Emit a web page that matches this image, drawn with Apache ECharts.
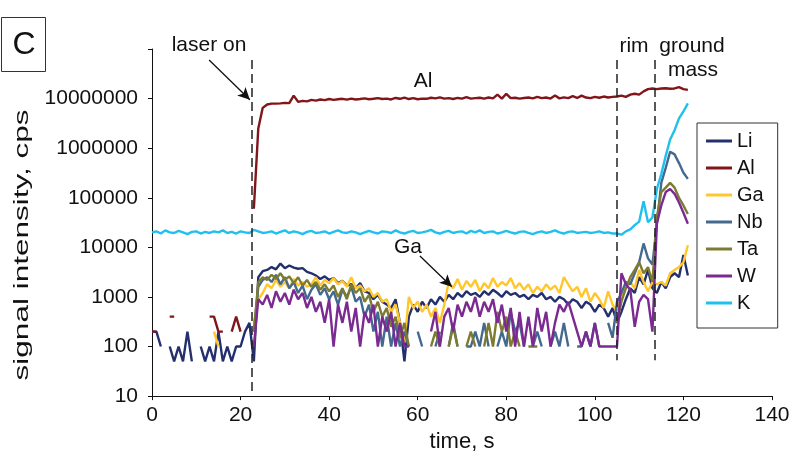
<!DOCTYPE html>
<html>
<head>
  <meta charset="utf-8">
  <title>signal intensity</title>
  <script src="https://cdn.jsdelivr.net/npm/echarts@6/dist/echarts.min.js"></script>
  <style>
    html, body { margin: 0; padding: 0; background: #fff; }
    #chart { width: 797px; height: 458px; }
  </style>
</head>
<body>
  <div id="chart"></div>
  <script>
    // time axis (s), one reading per second
    const times = [
      0, 1, 2, 3, 4, 5, 6, 7, 8, 9,
      10, 11, 12, 13, 14, 15, 16, 17, 18, 19,
      20, 21, 22, 23, 24, 25, 26, 27, 28, 29,
      30, 31, 32, 33, 34, 35, 36, 37, 38, 39,
      40, 41, 42, 43, 44, 45, 46, 47, 48, 49,
      50, 51, 52, 53, 54, 55, 56, 57, 58, 59,
      60, 61, 62, 63, 64, 65, 66, 67, 68, 69,
      70, 71, 72, 73, 74, 75, 76, 77, 78, 79,
      80, 81, 82, 83, 84, 85, 86, 87, 88, 89,
      90, 91, 92, 93, 94, 95, 96, 97, 98, 99,
      100, 101, 102, 103, 104, 105, 106, 107, 108, 109,
      110, 111, 112, 113, 114, 115, 116, 117, 118, 119,
      120, 121
    ];

    const li = [
      200, 200, 100, null, 100, 50, 100, 50, 200, 50,
      null, 100, 50, 100, 50, 200, 50, 100, 50, 100,
      100, 200, 300, 50, 2500, 3300, 3500, 4000, 3600, 4700,
      3800, 4300, 3900, 3700, 3800, 3200, 3000, 2700, 2300, 2600,
      2200, 2400, 1900, 2100, 1700, 1800, 1500, 1900, 1300, 1200,
      900, 1100, 800, 700, 600, 900, 300, 50, 400, 700,
      500, 800, 600, 900, 700, 1000, 800, 1100, 900, 1200,
      1000, 1300, 1100, 1200, 1000, 1300, 1100, 1400, 1200, 1000,
      1300, 1100, 1200, 1000, 1100, 900, 1100, 1000, 1200, 900,
      1000, 800, 1000, 900, 700, 900, 800, 600, 800, 700,
      500, 700, 600, 400, 600, 300, 500, 900, 1500, 1200,
      2500, 1800, 3500, 1500, 1200, 2000, 1500, 2500, 3000, 2500,
      7000, 2700
    ];

    const al = [
      200, 200, null, null, 400, 400, null, null, null, null,
      null, null, null, 400, 400, 200, 200, null, 200, 400,
      200, null, null, 6e4, 2.5e6, 6.5e6, 7.6e6, 7.9e6, 7.9e6, 8.0e6,
      8.2e6, 8.1e6, 1.15e7, 8.6e6, 9.0e6, 8.8e6, 9.4e6, 9.1e6, 9.6e6, 9.3e6,
      9.8e6, 9.4e6, 9.7e6, 9.9e6, 9.5e6, 1.0e7, 9.6e6, 9.8e6, 1.01e7, 9.7e6,
      9.9e6, 1.02e7, 9.8e6, 1.0e7, 9.6e6, 1.03e7, 9.9e6, 1.05e7, 9.8e6, 1.02e7,
      9.7e6, 1.0e7, 9.9e6, 1.04e7, 1.01e7, 1.06e7, 1.0e7, 1.02e7, 9.8e6, 1.03e7,
      1.0e7, 1.07e7, 1.0e7, 1.02e7, 1.04e7, 1.0e7, 1.05e7, 1.01e7, 1.2e7, 1.0e7,
      1.25e7, 1.02e7, 1.04e7, 1.0e7, 1.03e7, 1.05e7, 1.01e7, 1.08e7, 1.02e7, 1.05e7,
      1.0e7, 1.15e7, 1.01e7, 1.06e7, 1.02e7, 1.12e7, 1.03e7, 1.15e7, 1.05e7, 1.02e7,
      1.08e7, 1.04e7, 1.1e7, 1.05e7, 1.08e7, 1.1e7, 1.15e7, 1.08e7, 1.2e7, 1.25e7,
      1.2e7, 1.4e7, 1.55e7, 1.6e7, 1.55e7, 1.6e7, 1.62e7, 1.58e7, 1.6e7, 1.7e7,
      1.55e7, 1.5e7
    ];

    const ga = [
      null, null, null, null, null, null, null, null, null, null,
      null, null, null, null, 200, 100, null, null, null, null,
      null, null, null, 300, 900, 1200, 1800, 1500, 2200, 1600,
      2000, 1500, 2300, 1700, 2000, 1600, 1800, 2500, 1700, 2200,
      1900, 2400, 1800, 2100, 1600, 2500, 1500, 1700, 1300, 1500,
      1000, 1200, 800, 900, 500, 700, 300, 120, 1000, 600,
      800, 500, 700, 400, 600, 300, 700, 2000, 1500, 2300,
      1400, 2100, 1600, 2200, 1300, 1900, 1500, 2400, 1600, 2000,
      1700, 2400, 1500, 1900, 1400, 1800, 1200, 1600, 1300, 1800,
      1400, 1700, 1200, 2500, 1800, 1300, 1600, 1000, 1500, 800,
      1200, 900, 600, 1300, 700, 500, 1000, 1500, 2000, 1500,
      3500, 2000, 1300, 2000, 1800, 2000, 1700, 3000, 3500, 4000,
      5000, 11000
    ];

    const nb = [
      null, null, null, null, null, null, null, null, null, null,
      null, null, null, null, null, null, null, null, null, null,
      null, null, null, 200, 1600, 2200, 2500, 2000, 2800, 1800,
      2500, 1500, 2000, 1200, 1700, 900, 1400, 1800, 1100, 1500,
      900, 1300, 700, 1400, 1000, 1600, 800, 1000, 400, 700,
      200, 500, 100, 400, 100, 300, 100, 200, 100, null,
      200, 100, null, null, 100, 200, null, 100, 300, 100,
      null, 100, 100, 200, 100, 300, 100, null, 100, 200,
      100, 500, 200, 300, 100, null, 100, 200, 100, null,
      100, 200, 100, 300, 100, null, 100, 100, 200, 100,
      300, 100, null, 300, 150, 800, 1200, 2000, 1800, 3000,
      5000, 12000, 6000, 4500, 30000, 200000, 400000, 850000, 750000, 500000,
      320000, 240000
    ];

    const ta = [
      null, null, null, null, null, null, null, null, null, null,
      null, null, null, null, null, null, null, null, null, null,
      null, null, null, 200, 2000, 2500, 2200, 2800, 2300, 3000,
      2200, 2600, 1900, 2500, 1700, 2200, 1600, 2000, 1400, 1800,
      1300, 1700, 1000, 1500, 900, 1800, 1200, 1500, 800, 1100,
      500, 800, 400, 600, 250, 400, 150, 300, 100, null,
      null, null, null, 100, 200, 100, null, 100, 250, 100,
      null, 100, 200, 100, null, 100, 300, 100, 500, 200,
      400, 100, 200, 100, null, 100, 100, 100, null, null,
      null, null, null, null, null, null, null, null, null, null,
      null, null, null, null, null, 300, 800, 1500, 2500, 3500,
      5000, 3000, 4000, 2000, 40000, 130000, 160000, 200000, 160000, 100000,
      70000, 47000
    ];

    const w = [
      null, null, null, null, null, null, null, null, null, null,
      null, null, null, null, null, null, null, null, null, null,
      null, null, null, 100, 900, 700, 1100, 600, 1300, 800,
      1200, 700, 1400, 900, 1200, 600, 1000, 500, 800, 300,
      900, 100, 700, 300, 800, 200, 600, 100, 500, 300,
      700, 100, 400, 200, 500, 100, 300, 100, 100, null,
      null, 100, null, 200, 500, 100, 400, 600, 200, 700,
      400, 800, 500, 1000, 400, 800, 500, 900, 300, 700,
      200, 600, 100, 500, 100, 400, 100, 600, 200, 500,
      100, 300, 700, 500, 800, 400, 200, 100, 200, 100,
      300, 100, 100, 100, 100, 100, 3000, 1800, 1400, 250,
      800, 1100, 900, 200, 30000, 70000, 130000, 150000, 120000, 80000,
      50000, 30000
    ];

    const k = [
      20000, 21000, 19000, 22000, 20000, 19500, 21500, 20000, 18500, 20500,
      21000, 19000, 20500, 19500, 21000, 20000, 22000, 19500, 20500, 19000,
      21000, 20000, 19500, 22500, 21000, 19500, 20000, 21000, 19000, 20500,
      22000, 19500, 21000, 20000, 18500, 20500, 21500, 19500, 20000, 21000,
      19000, 20500, 22000, 20000, 19500, 21000, 20000, 18500, 20000, 21500,
      20000, 19000, 21000, 20500, 19500, 22000, 20000, 19000, 20500, 21500,
      19500, 20000, 21000, 22500, 20000, 19000, 20500, 21500, 19500, 20500,
      21000, 19000, 21500, 20000, 22000, 19500, 20500, 21000, 19000, 20000,
      21500, 20000, 19000, 20500, 21000, 19500, 18500, 20000, 21000, 19500,
      20500, 22000, 20000, 19000, 20500, 21000, 19500, 20000, 20500, 19500,
      20000, 21000, 19500, 20000, 19000, 19000, 18000, 21000, 23000, 28000,
      33000, 85000, 32000, 40000, 150000, 300000, 700000, 1500000, 2300000, 4000000,
      5500000, 8000000
    ];

    const names = ['Li', 'Al', 'Ga', 'Nb', 'Ta', 'W', 'K'];
    const colors = ['#24306e', '#80151a', '#ffc72c', '#44698f', '#7d7b2f', '#7b2a91', '#1fc0ee'];
    const values = [li, al, ga, nb, ta, w, k];

    // annotation positions (time s, cps)
    const laserOn = 22.6, rimStart = 105, groundStart = 113.5;

    const font = "'Liberation Sans', Arial, sans-serif";
    const dash = { color: '#222', type: [9, 5], width: 1.5 };

    let series = values.map(function (vals, i) {
      return {
        name: names[i],
        type: 'line',
        showSymbol: false,
        connectNulls: false,
        color: colors[i],
        lineStyle: { width: 2.4, color: colors[i] },
        data: times.map(function (t, j) { return [t, vals[j]]; })
      };
    });

    series[6].markLine = {
      silent: true,
      animation: false,
      label: { show: false },
      symbol: ['none', 'none'],
      data: [
        [{ coord: [laserOn, 6e7], lineStyle: dash }, { coord: [laserOn, 10.5] }],
        [{ coord: [rimStart, 6e7], lineStyle: dash }, { coord: [rimStart, 53] }],
        [{ coord: [groundStart, 6e7], lineStyle: dash }, { coord: [groundStart, 53] }],
        [{ coord: [12.9, 6e7], lineStyle: { color: '#111', type: 'solid', width: 1.3 } },
         { coord: [22.1, 9.5e6], symbol: 'arrow', symbolSize: [9, 12] }],
        [{ coord: [60.5, 6700], lineStyle: { color: '#111', type: 'solid', width: 1.3 } },
         { coord: [67.7, 1600], symbol: 'arrow', symbolSize: [9, 12] }]
      ]
    };

    let myChart = echarts.init(document.getElementById('chart'));
    let option = {
      animation: false,
      backgroundColor: '#fff',
      textStyle: { fontFamily: font },
      grid: { left: 152, right: 25, top: 49, bottom: 60 },
      legend: {
        data: names,
        orient: 'vertical',
        left: 697,
        top: 123,
        icon: 'rect',
        itemWidth: 26,
        itemHeight: 3,
        itemGap: 7,
        padding: [8, 14, 15, 9],
        borderColor: '#333',
        borderWidth: 1,
        backgroundColor: '#fff',
        textStyle: { fontSize: 20, color: '#111', fontFamily: font, lineHeight: 20 }
      },
      xAxis: {
        type: 'value',
        min: 0,
        max: 140,
        interval: 20,
        name: 'time, s',
        nameLocation: 'middle',
        nameGap: 30,
        nameTextStyle: { fontSize: 22, color: '#111', fontFamily: font },
        axisLine: { lineStyle: { color: '#111', width: 1 } },
        axisTick: { inside: false, length: 4, lineStyle: { color: '#111' } },
        axisLabel: { fontSize: 21, color: '#111', margin: 9, fontFamily: font },
        splitLine: { show: false }
      },
      yAxis: {
        type: 'log',
        logBase: 10,
        min: 10,
        max: 1e8,
        splitNumber: 7,
        axisLine: { show: true, lineStyle: { color: '#111', width: 1 } },
        axisTick: { show: true, inside: false, length: 4, lineStyle: { color: '#111' } },
        axisLabel: {
          fontSize: 21, color: '#111', margin: 14, fontFamily: font,
          formatter: function (v) { return v > 5e7 ? '' : String(Math.round(v)); }
        },
        splitLine: { show: false }
      },
      graphic: [
        { type: 'rect', shape: { x: 1.5, y: 17.5, width: 44, height: 54 },
          style: { fill: '#fff', stroke: '#333', lineWidth: 1 } },
        { type: 'text', x: 24, y: 45,
          style: { text: 'C', font: '32px ' + font, fill: '#111', align: 'center', verticalAlign: 'middle' } },
        // y axis title, stretched along its length like the original figure
        { type: 'text', x: 22, y: 245, rotation: Math.PI / 2, scaleX: 1.5, scaleY: 1,
          style: { text: 'signal intensity, cps', font: '21px ' + font, fill: '#111', align: 'center', verticalAlign: 'middle' } },
        { type: 'text', x: 209, y: 45,
          style: { text: 'laser on', font: '21px ' + font, fill: '#111', align: 'center', verticalAlign: 'middle' } },
        { type: 'text', x: 634, y: 46,
          style: { text: 'rim', font: '21px ' + font, fill: '#111', align: 'center', verticalAlign: 'middle' } },
        { type: 'text', x: 692, y: 46,
          style: { text: 'ground', font: '21px ' + font, fill: '#111', align: 'center', verticalAlign: 'middle' } },
        { type: 'text', x: 693, y: 70,
          style: { text: 'mass', font: '21px ' + font, fill: '#111', align: 'center', verticalAlign: 'middle' } },
        { type: 'text', x: 423, y: 81,
          style: { text: 'Al', font: '21px ' + font, fill: '#111', align: 'center', verticalAlign: 'middle' } },
        { type: 'text', x: 408, y: 247,
          style: { text: 'Ga', font: '21px ' + font, fill: '#111', align: 'center', verticalAlign: 'middle' } }
      ],
      series: series
    };
    myChart.setOption(option);
  </script>
</body>
</html>
